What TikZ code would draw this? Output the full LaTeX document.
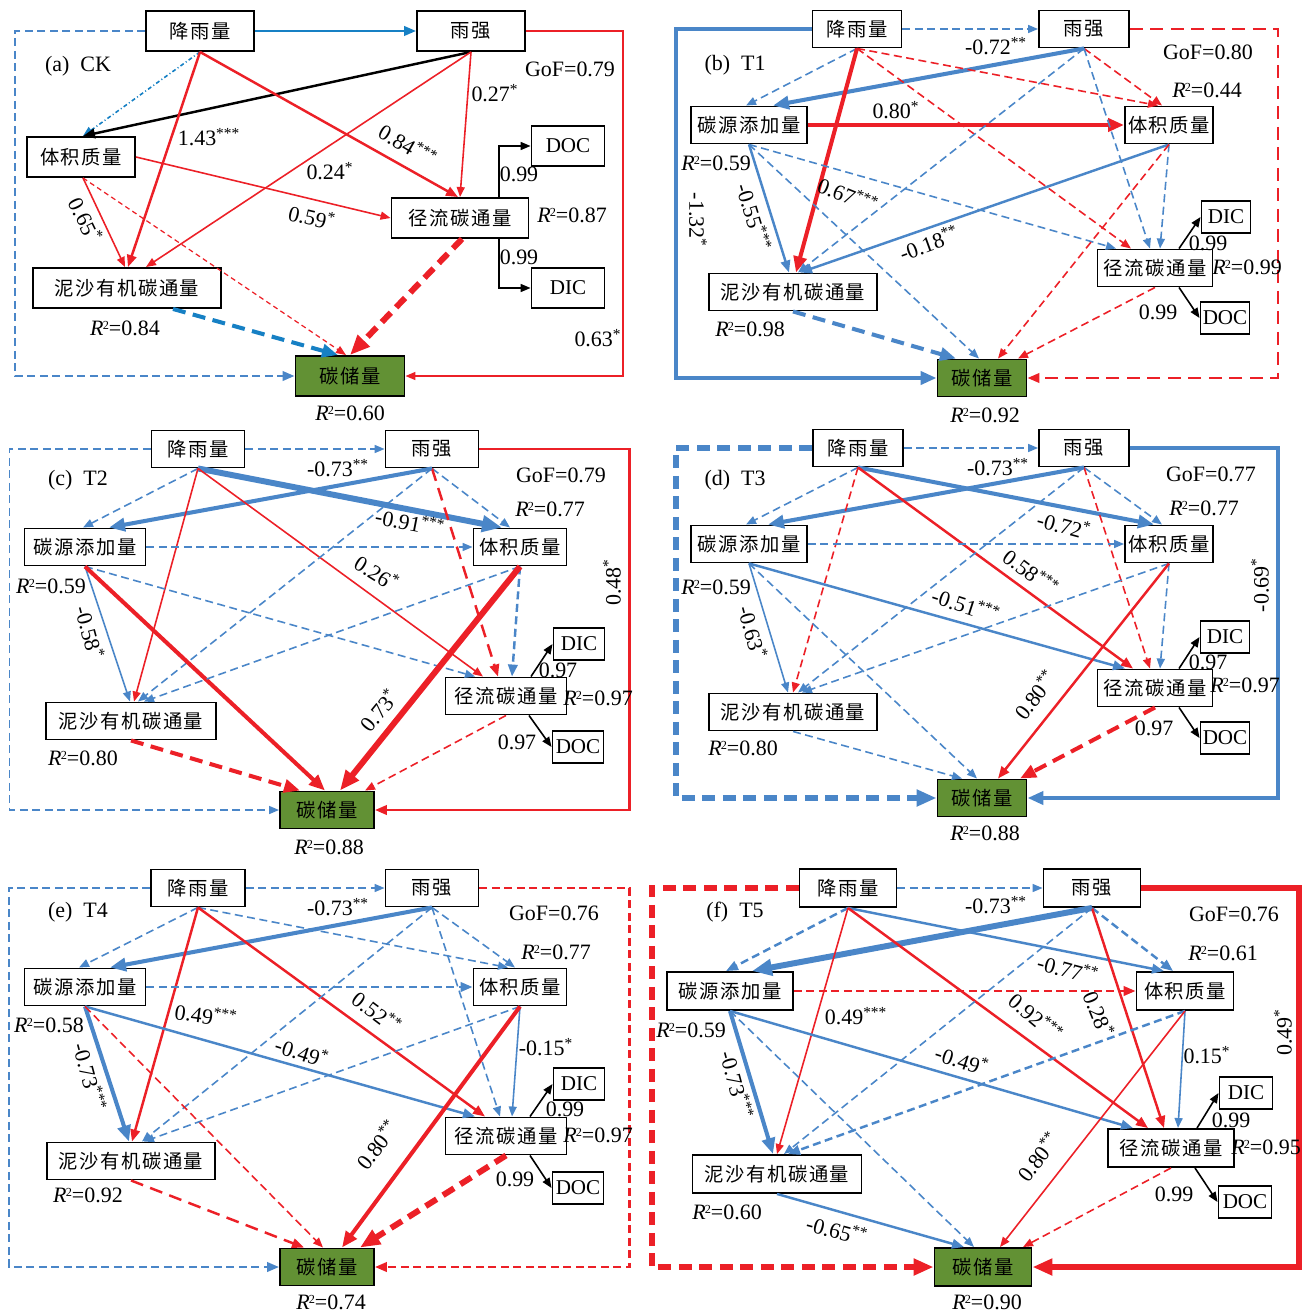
\documentclass[tikz,border=0pt]{standalone}
\usepackage{fontspec}
\setmainfont{Liberation Serif}
\newfontfamily\cjk[LetterSpace=8]{Noto Sans CJK SC}
\usetikzlibrary{arrows.meta,calc}
\definecolor{cred}{RGB}{236,32,39}
\definecolor{cblue}{RGB}{74,134,200}
\definecolor{cbright}{RGB}{22,128,196}
\definecolor{cgreen}{RGB}{98,145,52}
\newcommand{\rsq}[1]{\textit{R}\kern-0.04em\raisebox{0.6ex}{\fontsize{7}{7}\selectfont 2}=#1}
\newcommand{\sig}[1]{\textsuperscript{#1}}
\tikzset{
  box/.style={draw,line width=1.1pt,fill=white,inner sep=0pt,minimum height=0.74cm,font=\cjk\fontsize{11}{13}\selectfont},
  sbox/.style={box,font=\fontsize{12}{14}\selectfont,minimum height=0.64cm},
  cbox/.style={box,fill=cgreen},
  lab/.style={font=\fontsize{12.5}{14}\selectfont,inner sep=0pt},
  rd/.style={draw=cred},
  bu/.style={draw=cblue},
  t1/.style={line width=0.9pt,-{Triangle[length=0.2cm,width=0.16cm]}},
  t2/.style={line width=1.4pt,-{Triangle[length=0.24cm,width=0.19cm]}},
  t3/.style={line width=2.3pt,-{Triangle[length=0.32cm,width=0.26cm]}},
  t4/.style={line width=3.4pt,-{Triangle[length=0.4cm,width=0.32cm]}},
  dsh/.style={dash pattern=on 0.16cm off 0.09cm},
  dshw/.style={dash pattern=on 0.26cm off 0.15cm},
}
\begin{document}
\begin{tikzpicture}[x=0.02cm,y=-0.02cm]
\useasboundingbox (0,0) rectangle (1306,1314);

% (a) CK
\node[box,minimum height=0.8cm,minimum width=2.16cm] (a-rain) at (200,31) {降雨量};
\node[box,minimum height=0.8cm,minimum width=2.16cm] (a-int) at (471,31) {雨强};
\node[box,minimum height=0.8cm,minimum width=2.16cm] (a-bulk) at (81,157) {体积质量};
\node[box,minimum height=0.8cm,minimum width=2.74cm] (a-run) at (460,218) {径流碳通量};
\node[box,minimum height=0.8cm,minimum width=3.76cm] (a-sed) at (127,288) {泥沙有机碳通量};
\node[sbox,minimum height=0.8cm,minimum width=1.46cm] (a-doc) at (568,146) {DOC};
\node[sbox,minimum height=0.8cm,minimum width=1.46cm] (a-dic) at (568,288) {DIC};
\node[cbox,minimum height=0.8cm,minimum width=2.18cm] (a-cs) at (350,376) {碳储量};

\draw[bu,t2,dsh] (a-rain.west) -- ++(-130,0) |- (a-cs.west);
\draw[rd,t1] (a-int.east) -- ++(97,0) |- (a-cs.east);
\draw[draw=cbright,t2] (a-rain) -- (a-int);
\draw[draw=cbright,t1,dash pattern=on 0.08cm off 0.05cm on 0.02cm off 0.05cm] (a-rain.south) -- ($(a-bulk.north)+(2,0)$);
\draw[black,t2] (a-int.south) -- ($(a-bulk.north)+(2,0)$);
\draw[rd,t2] (a-rain.south) -- ($(a-sed.north)+(1,0)$);
\draw[rd,t2] (a-rain.south) -- ($(a-run.north)+(-2,0)$);
\draw[rd,t1] (a-int.south) -- (a-run.north);
\draw[rd,t1] (a-int.south) -- ($(a-sed.north)+(19,0)$);
\draw[rd,t1] (a-bulk.east) -- (a-run.west);
\draw[rd,t1] ($(a-bulk.south)+(2,0)$) -- ($(a-sed.north)+(-2,0)$);
\draw[rd,line width=0.7pt,-{Triangle[length=0.2cm,width=0.16cm]},dash pattern=on 0.1cm off 0.07cm] ($(a-bulk.south)+(2,0)$) -- ($(a-cs.north)+(-4,0)$);
\draw[draw=cbright,t3,dshw] ($(a-sed.south)+(46,0)$) -- ($(a-cs.north)+(-12,0)$);
\draw[rd,t4,dshw] ($(a-run.south)+(2,0)$) -- (a-cs.north);
\draw[black,t1] ($(a-run.north)+(39,0)$) |- (a-doc.west);
\draw[black,t1] ($(a-run.south)+(39,0)$) |- (a-dic.west);

\node[lab] (a-tag) at (78,66) {(a)\ \ CK};
\node[lab] (a-gof) at (570,69) {GoF=0.79};
\node[lab] (a-l1) at (209,137) {1.43\sig{***}};
\node[lab,rotate=-30] (a-l2) at (408,145) {0.84\sig{***}};
\node[lab] (a-l3) at (495,93) {0.27\sig{*}};
\node[lab] (a-l4) at (330,171) {0.24\sig{*}};
\node[lab,rotate=-13] (a-l5) at (312,217) {0.59\sig{*}};
\node[lab,rotate=-64] (a-l6) at (86,220) {0.65\sig{*}};
\node[lab] (a-l7) at (519,174) {0.99};
\node[lab] (a-l8) at (519,257) {0.99};
\node[lab] (a-l9) at (598,338) {0.63\sig{*}};
\node[lab] (a-r1) at (572,215) {\rsq{0.87}};
\node[lab] (a-r2) at (125,328) {\rsq{0.84}};
\node[lab] (a-r3) at (350,413) {\rsq{0.60}};

% (b) T1
\node[box,minimum width=1.78cm] (b-rain) at (857,29) {降雨量};
\node[box,minimum width=1.8cm] (b-int) at (1084,29) {雨强};
\node[box,minimum width=2.32cm] (b-add) at (749,125) {碳源添加量};
\node[box,minimum width=1.76cm] (b-bulk) at (1169,125) {体积质量};
\node[box,minimum width=2.3cm] (b-run) at (1155,268) {径流碳通量};
\node[box,minimum width=3.36cm] (b-sed) at (793,292) {泥沙有机碳通量};
\node[sbox,minimum width=0.98cm] (b-dic) at (1226,217) {DIC};
\node[sbox,minimum width=0.98cm] (b-doc) at (1225,318) {DOC};
\node[cbox,minimum width=1.78cm] (b-cs) at (982,378) {碳储量};

\draw[bu,t3] (b-rain.west) -- ++(-136,0) |- (b-cs.west);
\draw[rd,t2,dshw] (b-int.east) -- ++(148,0) |- (b-cs.east);
\draw[bu,t1,dsh] (b-rain) -- (b-int);
\draw[bu,t1,dsh] (b-rain.south) -- ($(b-add.north)+(-3,0)$);
\draw[bu,t3] (b-int.south) -- ($(b-add.north)+(24,0)$);
\draw[rd,t1,dsh] (b-rain.south) -- ($(b-bulk.north)+(-11,0)$);
\draw[rd,t1,dsh] (b-int.south) -- ($(b-bulk.north)+(-7,0)$);
\draw[rd,t3] (b-add) -- (b-bulk);
\draw[rd,t3] (b-rain.south) -- ($(b-sed.north)+(3,0)$);
\draw[rd,t1,dsh] (b-rain.south) -- ($(b-run.north)+(-24,0)$);
\draw[bu,t1,dsh] (b-int.south) -- ($(b-sed.north)+(5,0)$);
\draw[bu,t1,dsh] (b-int.south) -- ($(b-run.north)+(-5,0)$);
\draw[bu,t2] (b-add.south) -- ($(b-sed.north)+(-4,0)$);
\draw[bu,t1,dsh] (b-add.south) -- ($(b-run.north)+(-39,0)$);
\draw[bu,t1,dsh] (b-add.south) -- ($(b-cs.north)+(-3,0)$);
\draw[bu,t2] (b-bulk.south) -- ($(b-sed.north)+(7,0)$);
\draw[bu,t1,dsh] (b-bulk.south) -- ($(b-run.north)+(5,0)$);
\draw[rd,t1,dsh] (b-bulk.south) -- ($(b-cs.north)+(16,0)$);
\draw[bu,t3,dshw] (b-sed.south) -- ($(b-cs.north)+(-26,0)$);
\draw[rd,t1,dsh] (b-run.south) -- ($(b-cs.north)+(36,0)$);
\draw[black,t1] ($(b-run.north)+(24,0)$) -- (b-dic.west);
\draw[black,t1] ($(b-run.south)+(24,0)$) -- (b-doc.west);

\node[lab] (b-tag) at (735,65) {(b)\ \ T1};
\node[lab] (b-gof) at (1208,52) {GoF=0.80};
\node[lab] (b-l1) at (996,46) {-0.72\sig{**}};
\node[lab] (b-l2) at (896,110) {0.80\sig{*}};
\node[lab,rotate=-90] (b-l3) at (698,220) {-1.32\sig{*}};
\node[lab,rotate=-73] (b-l4) at (754,217) {-0.55\sig{***}};
\node[lab,rotate=-22] (b-l5) at (848,195) {0.67\sig{***}};
\node[lab,rotate=20] (b-l6) at (929,243) {-0.18\sig{**}};
\node[lab] (b-l7) at (1208,243) {0.99};
\node[lab] (b-l8) at (1158,312) {0.99};
\node[lab] (b-r1) at (1207,90) {\rsq{0.44}};
\node[lab] (b-r2) at (716,163) {\rsq{0.59}};
\node[lab] (b-r3) at (1247,267) {\rsq{0.99}};
\node[lab] (b-r4) at (750,329) {\rsq{0.98}};
\node[lab] (b-r5) at (985,415) {\rsq{0.92}};

% (c) T2
\node[box,minimum width=1.86cm] (c-rain) at (198,449) {降雨量};
\node[box,minimum width=1.86cm] (c-int) at (432,449) {雨强};
\node[box,minimum width=2.42cm] (c-add) at (85,547) {碳源添加量};
\node[box,minimum width=1.86cm] (c-bulk) at (520,547) {体积质量};
\node[box,minimum width=2.42cm] (c-run) at (506,696) {径流碳通量};
\node[box,minimum width=3.4cm] (c-sed) at (131,721) {泥沙有机碳通量};
\node[sbox,minimum width=1.02cm] (c-dic) at (579,644) {DIC};
\node[sbox,minimum width=1.02cm] (c-doc) at (578,747) {DOC};
\node[cbox,minimum width=1.88cm] (c-cs) at (327,810) {碳储量};

\draw[bu,t1,dsh] (c-rain.west) -- ++(-141,0) |- (c-cs.west);
\draw[rd,t2] (c-int.east) -- ++(150,0) |- (c-cs.east);
\draw[bu,t1,dsh] (c-rain) -- (c-int);
\draw[bu,t1,dsh] (c-rain.south) -- ($(c-add.north)+(-2,0)$);
\draw[bu,t3] (c-int.south) -- ($(c-add.north)+(24,0)$);
\draw[bu,t4] (c-rain.south) -- ($(c-bulk.north)+(-18,0)$);
\draw[bu,t1,dsh] (c-int.south) -- ($(c-bulk.north)+(-10,0)$);
\draw[rd,t1] (c-rain.south) -- ($(c-sed.north)+(3,0)$);
\draw[rd,t1] (c-rain.south) -- ($(c-run.north)+(-23,0)$);
\draw[rd,t2,dshw] (c-int.south) -- ($(c-run.north)+(-8,0)$);
\draw[bu,t1,dsh] (c-int.south) -- ($(c-sed.north)+(7,0)$);
\draw[bu,t1,dsh] (c-add) -- (c-bulk);
\draw[bu,t1] (c-add.south) -- ($(c-sed.north)+(-1,0)$);
\draw[bu,t1,dsh] (c-add.south) -- ($(c-run.north)+(-31,0)$);
\draw[rd,t3] (c-add.south) -- ($(c-cs.north)+(-2,0)$);
\draw[bu,t1,dsh] (c-bulk.south) -- ($(c-sed.north)+(13,0)$);
\draw[bu,t2,dsh] (c-bulk.south) -- ($(c-run.north)+(6,0)$);
\draw[rd,t4] (c-bulk.south) -- ($(c-cs.north)+(13,0)$);
\draw[rd,t3,dshw] (c-sed.south) -- ($(c-cs.north)+(-27,0)$);
\draw[rd,t1,dsh] (c-run.south) -- ($(c-cs.north)+(38,0)$);
\draw[black,t1] ($(c-run.north)+(25,0)$) -- (c-dic.west);
\draw[black,t1] ($(c-run.south)+(23,0)$) -- (c-doc.west);

\node[lab] (c-tag) at (78,480) {(c)\ \ T2};
\node[lab] (c-gof) at (561,475) {GoF=0.79};
\node[lab] (c-l1) at (338,468) {-0.73\sig{**}};
\node[lab,rotate=-11] (c-l2) at (410,522) {-0.91\sig{***}};
\node[lab,rotate=-32] (c-l3) at (377,573) {0.26\sig{*}};
\node[lab,rotate=-75] (c-l4) at (90,632) {-0.58\sig{*}};
\node[lab,rotate=90] (c-l5) at (612,582) {0.48\sig{*}};
\node[lab,rotate=51] (c-l6) at (379,710) {0.73\sig{*}};
\node[lab] (c-l7) at (558,670) {0.97};
\node[lab] (c-l8) at (517,742) {0.97};
\node[lab] (c-r1) at (550,509) {\rsq{0.77}};
\node[lab] (c-r2) at (51,586) {\rsq{0.59}};
\node[lab] (c-r3) at (598,698) {\rsq{0.97}};
\node[lab] (c-r4) at (83,758) {\rsq{0.80}};
\node[lab] (c-r5) at (329,847) {\rsq{0.88}};

% (d) T3
\node[box,minimum width=1.8cm] (d-rain) at (858,448) {降雨量};
\node[box,minimum width=1.8cm] (d-int) at (1084,448) {雨强};
\node[box,minimum width=2.32cm] (d-add) at (749,544) {碳源添加量};
\node[box,minimum width=1.76cm] (d-bulk) at (1169,544) {体积质量};
\node[box,minimum width=2.3cm] (d-run) at (1155,688) {径流碳通量};
\node[box,minimum width=3.36cm] (d-sed) at (793,712) {泥沙有机碳通量};
\node[sbox,minimum width=0.98cm] (d-dic) at (1225,637) {DIC};
\node[sbox,minimum width=0.98cm] (d-doc) at (1225,738) {DOC};
\node[cbox,minimum width=1.78cm] (d-cs) at (982,798) {碳储量};

\draw[bu,t4,dshw] (d-rain.west) -- ++(-136,0) |- (d-cs.west);
\draw[bu,t3] (d-int.east) -- ++(148,0) |- (d-cs.east);
\draw[bu,t1,dsh] (d-rain) -- (d-int);
\draw[bu,t1,dsh] (d-rain.south) -- ($(d-add.north)+(-3,0)$);
\draw[bu,t3] (d-int.south) -- ($(d-add.north)+(19,0)$);
\draw[bu,t3] (d-rain.south) -- ($(d-bulk.north)+(-15,0)$);
\draw[bu,t1,dsh] (d-int.south) -- ($(d-bulk.north)+(-7,0)$);
\draw[rd,t1,dsh] (d-rain.south) -- (d-sed.north);
\draw[rd,t2] (d-rain.south) -- ($(d-run.north)+(-22,0)$);
\draw[rd,t1,dsh] (d-int.south) -- ($(d-run.north)+(-5,0)$);
\draw[bu,t1,dsh] (d-int.south) -- ($(d-sed.north)+(5,0)$);
\draw[bu,t1,dsh] (d-add) -- (d-bulk);
\draw[bu,t1] (d-add.south) -- ($(d-sed.north)+(-5,0)$);
\draw[bu,t2] (d-add.south) -- ($(d-run.north)+(-30,0)$);
\draw[bu,t1,dsh] (d-add.south) -- ($(d-cs.north)+(-5,0)$);
\draw[bu,t1,dsh] (d-bulk.south) -- ($(d-sed.north)+(9,0)$);
\draw[bu,t1,dsh] (d-bulk.south) -- ($(d-run.north)+(5,0)$);
\draw[rd,t2] (d-bulk.south) -- ($(d-cs.north)+(16,0)$);
\draw[bu,t1,dsh] (d-sed.south) -- ($(d-cs.north)+(-20,0)$);
\draw[rd,t3,dshw] (d-run.south) -- ($(d-cs.north)+(38,0)$);
\draw[black,t1] ($(d-run.north)+(24,0)$) -- (d-dic.west);
\draw[black,t1] ($(d-run.south)+(24,0)$) -- (d-doc.west);

\node[lab] (d-tag) at (735,480) {(d)\ \ T3};
\node[lab] (d-gof) at (1211,474) {GoF=0.77};
\node[lab] (d-l1) at (998,467) {-0.73\sig{**}};
\node[lab,rotate=-15] (d-l2) at (1064,525) {-0.72\sig{*}};
\node[lab,rotate=-37] (d-l3) at (1031,572) {0.58\sig{***}};
\node[lab,rotate=-18] (d-l4) at (966,605) {-0.51\sig{***}};
\node[lab,rotate=-75] (d-l5) at (753,632) {-0.63\sig{*}};
\node[lab,rotate=90] (d-l6) at (1260,585) {-0.69\sig{*}};
\node[lab,rotate=52] (d-l7) at (1035,695) {0.80\sig{**}};
\node[lab] (d-l8) at (1208,662) {0.97};
\node[lab] (d-l9) at (1154,728) {0.97};
\node[lab] (d-r1) at (1204,508) {\rsq{0.77}};
\node[lab] (d-r2) at (716,587) {\rsq{0.59}};
\node[lab] (d-r3) at (1245,685) {\rsq{0.97}};
\node[lab] (d-r4) at (743,748) {\rsq{0.80}};
\node[lab] (d-r5) at (985,833) {\rsq{0.88}};

% (e) T4
\node[box,minimum width=1.88cm] (e-rain) at (198,888) {降雨量};
\node[box,minimum width=1.86cm] (e-int) at (432,888) {雨强};
\node[box,minimum width=2.42cm] (e-add) at (85,987) {碳源添加量};
\node[box,minimum width=1.86cm] (e-bulk) at (520,987) {体积质量};
\node[box,minimum width=2.42cm] (e-run) at (506,1136) {径流碳通量};
\node[box,minimum width=3.36cm] (e-sed) at (131,1161) {泥沙有机碳通量};
\node[sbox,minimum width=1.02cm] (e-dic) at (579,1084) {DIC};
\node[sbox,minimum width=1.02cm] (e-doc) at (578,1188) {DOC};
\node[cbox,minimum width=1.88cm] (e-cs) at (327,1267) {碳储量};

\draw[bu,t2,dsh] (e-rain.west) -- ++(-141,0) |- (e-cs.west);
\draw[rd,t2,dsh] (e-int.east) -- ++(150,0) |- (e-cs.east);
\draw[bu,t1,dsh] (e-rain) -- (e-int);
\draw[bu,t1,dsh] (e-rain.south) -- ($(e-add.north)+(-6,0)$);
\draw[bu,t3] (e-int.south) -- ($(e-add.north)+(25,0)$);
\draw[bu,t1,dsh] (e-rain.south) -- ($(e-bulk.north)+(-12,0)$);
\draw[bu,t1,dsh] (e-int.south) -- ($(e-bulk.north)+(-5,0)$);
\draw[rd,t2] (e-rain.south) -- ($(e-sed.north)+(1,0)$);
\draw[rd,t2] (e-rain.south) -- ($(e-run.north)+(-21,0)$);
\draw[bu,t1,dsh] (e-int.south) -- ($(e-run.north)+(-6,0)$);
\draw[bu,t1,dsh] (e-int.south) -- ($(e-sed.north)+(11,0)$);
\draw[bu,t2,dsh] (e-add) -- (e-bulk);
\draw[bu,t3] (e-add.south) -- ($(e-sed.north)+(-2,0)$);
\draw[bu,t2] (e-add.south) -- ($(e-run.north)+(-31,0)$);
\draw[rd,t1,dsh] (e-add.south) -- ($(e-cs.north)+(-4,0)$);
\draw[bu,t1,dsh] (e-bulk.south) -- ($(e-sed.north)+(13,0)$);
\draw[bu,t1] (e-bulk.south) -- ($(e-run.north)+(6,0)$);
\draw[rd,t3] (e-bulk.south) -- ($(e-cs.north)+(15,0)$);
\draw[rd,t2,dshw] (e-sed.south) -- ($(e-cs.north)+(-23,0)$);
\draw[rd,t4,dshw] (e-run.south) -- ($(e-cs.north)+(33,0)$);
\draw[black,t1] ($(e-run.north)+(24,0)$) -- (e-dic.west);
\draw[black,t1] ($(e-run.south)+(24,0)$) -- (e-doc.west);

\node[lab] (e-tag) at (78,912) {(e)\ \ T4};
\node[lab] (e-gof) at (554,913) {GoF=0.76};
\node[lab] (e-l1) at (338,907) {-0.73\sig{**}};
\node[lab,rotate=-8] (e-l2) at (206,1015) {0.49\sig{***}};
\node[lab,rotate=-37] (e-l3) at (377,1012) {0.52\sig{**}};
\node[lab,rotate=-18] (e-l4) at (302,1052) {-0.49\sig{*}};
\node[lab] (e-l5) at (546,1047) {-0.15\sig{*}};
\node[lab,rotate=-75] (e-l6) at (90,1077) {-0.73\sig{***}};
\node[lab,rotate=52] (e-l7) at (377,1145) {0.80\sig{**}};
\node[lab] (e-l8) at (565,1109) {0.99};
\node[lab] (e-l9) at (515,1179) {0.99};
\node[lab] (e-r1) at (556,952) {\rsq{0.77}};
\node[lab] (e-r2) at (49,1025) {\rsq{0.58}};
\node[lab] (e-r3) at (598,1135) {\rsq{0.97}};
\node[lab] (e-r4) at (88,1195) {\rsq{0.92}};
\node[lab] (e-r5) at (331,1302) {\rsq{0.74}};

% (f) T5
\node[box,minimum height=0.76cm,minimum width=1.94cm] (f-rain) at (848,888) {降雨量};
\node[box,minimum height=0.76cm,minimum width=1.94cm] (f-int) at (1092,888) {雨强};
\node[box,minimum height=0.76cm,minimum width=2.52cm] (f-add) at (730,991) {碳源添加量};
\node[box,minimum height=0.76cm,minimum width=1.94cm] (f-bulk) at (1185,991) {体积质量};
\node[box,minimum height=0.76cm,minimum width=2.52cm] (f-run) at (1171,1148) {径流碳通量};
\node[box,minimum height=0.76cm,minimum width=3.38cm] (f-sed) at (777,1174) {泥沙有机碳通量};
\node[sbox,minimum width=1.06cm] (f-dic) at (1246,1093) {DIC};
\node[sbox,minimum width=1.06cm] (f-doc) at (1245,1202) {DOC};
\node[cbox,minimum height=0.76cm,minimum width=1.94cm] (f-cs) at (983,1267) {碳储量};

\draw[rd,t4,dshw] (f-rain.west) -- ++(-147,0) |- (f-cs.west);
\draw[rd,t4] (f-int.east) -- ++(158,0) |- (f-cs.east);
\draw[bu,t1,dsh] (f-rain) -- (f-int);
\draw[bu,t2,dsh] (f-rain.south) -- ($(f-add.north)+(-4,0)$);
\draw[bu,t4] (f-int.south) -- ($(f-add.north)+(22,0)$);
\draw[bu,t2] (f-rain.south) -- ($(f-bulk.north)+(-21,0)$);
\draw[bu,t2,dsh] (f-int.south) -- ($(f-bulk.north)+(-12,0)$);
\draw[rd,t1] (f-rain.south) -- (f-sed.north);
\draw[rd,t2] (f-rain.south) -- ($(f-run.north)+(-23,0)$);
\draw[rd,t2] (f-int.south) -- ($(f-run.north)+(-7,0)$);
\draw[bu,t1,dsh] (f-int.south) -- ($(f-sed.north)+(7,0)$);
\draw[rd,t2,dsh] (f-add) -- (f-bulk);
\draw[bu,t3] (f-add.south) -- ($(f-sed.north)+(-4,0)$);
\draw[bu,t2] (f-add.south) -- ($(f-run.north)+(-38,0)$);
\draw[bu,t1,dsh] (f-add.south) -- ($(f-cs.north)+(-9,0)$);
\draw[bu,t2,dsh] (f-bulk.south) -- ($(f-sed.north)+(11,0)$);
\draw[bu,t1] (f-bulk.south) -- ($(f-run.north)+(7,0)$);
\draw[rd,t1] (f-bulk.south) -- ($(f-cs.north)+(17,0)$);
\draw[bu,t2] (f-sed.south) -- ($(f-cs.north)+(-19,0)$);
\draw[rd,t1,dsh] (f-run.south) -- ($(f-cs.north)+(40,0)$);
\draw[black,t1] ($(f-run.north)+(26,0)$) -- (f-dic.west);
\draw[black,t1] ($(f-run.south)+(24,0)$) -- (f-doc.west);

\node[lab] (f-tag) at (735,912) {(f)\ \ T5};
\node[lab] (f-gof) at (1234,914) {GoF=0.76};
\node[lab] (f-l1) at (996,905) {-0.73\sig{**}};
\node[lab,rotate=-15] (f-l2) at (1068,969) {-0.77\sig{**}};
\node[lab] (f-l3) at (856,1016) {0.49\sig{***}};
\node[lab,rotate=-40] (f-l4) at (1036,1017) {0.92\sig{***}};
\node[lab,rotate=-68] (f-l5) at (1099,1014) {0.28\sig{*}};
\node[lab] (f-l6) at (1207,1055) {0.15\sig{*}};
\node[lab,rotate=-18] (f-l7) at (962,1060) {-0.49\sig{*}};
\node[lab,rotate=90] (f-l8) at (1283,1032) {0.49\sig{*}};
\node[lab,rotate=-75] (f-l9) at (737,1085) {-0.73\sig{***}};
\node[lab,rotate=52] (f-l10) at (1038,1157) {0.80\sig{**}};
\node[lab] (f-l11) at (1231,1120) {0.99};
\node[lab] (f-l12) at (1174,1194) {0.99};
\node[lab,rotate=-15] (f-l13) at (837,1230) {-0.65\sig{**}};
\node[lab] (f-r1) at (1223,953) {\rsq{0.61}};
\node[lab] (f-r2) at (691,1030) {\rsq{0.59}};
\node[lab] (f-r3) at (1266,1147) {\rsq{0.95}};
\node[lab] (f-r4) at (727,1212) {\rsq{0.60}};
\node[lab] (f-r5) at (987,1302) {\rsq{0.90}};
\end{tikzpicture}
\end{document}
